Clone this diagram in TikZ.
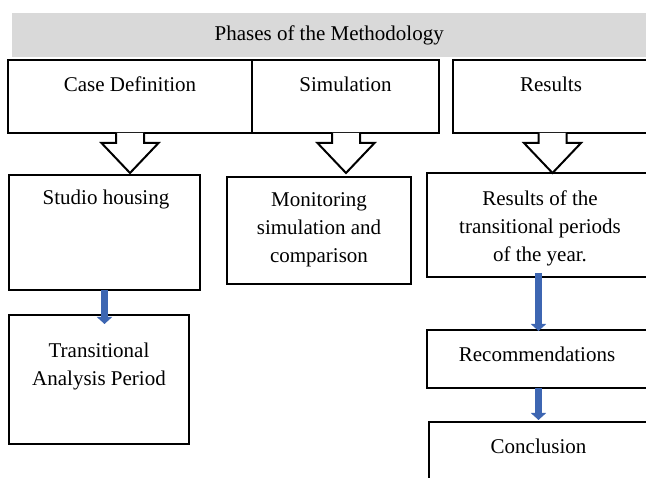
\documentclass[tikz,border=0pt]{standalone}
\usepackage{fontspec}
\setmainfont{Liberation Serif}
\usetikzlibrary{arrows.meta,calc}
\definecolor{barGray}{HTML}{D9D9D9}
\definecolor{flowBlue}{HTML}{3D66B2}
\begin{document}
\begin{tikzpicture}[x=1pt,y=-1pt,
  box/.style={draw=black, line width=2pt, fill=white, inner sep=0pt, outer sep=0pt, anchor=north west},
  txt/.style={font=\fontsize{21}{28}\selectfont, align=center, inner sep=0pt},
  blockarr/.pic={\draw[line width=2pt, line join=miter, fill=white]
      (-14,0) -- (-14,10) -- (-28.5,10) -- (0,40) -- (28.5,10) -- (14,10) -- (14,0);},
  bluearr/.style={draw=flowBlue, line width=6.5pt, -{Triangle[width=15pt,length=7pt]}}]
\useasboundingbox (0,0) rectangle (646,478);
\clip (0,0) rectangle (646,478);

% title bar
\node[fill=barGray, inner sep=0pt, anchor=north west, minimum width=634pt, minimum height=44pt] (bar) at (12,13) {};
\node[txt] (barT) at (bar.center) {Phases of the Methodology};

% phase boxes
\node[box, minimum width=244pt, minimum height=73pt] (cd) at (8,60) {};
\node[box, minimum width=187pt, minimum height=73pt] (sim) at (252,60) {};
\node[box, minimum width=199pt, minimum height=73pt] (res) at (453,60) {};
\node[txt] (cdT) at ($(cd.north)+(0,24)$) {Case Definition};
\node[txt] (simT) at ($(sim.north)+(0,24)$) {Simulation};
\node[txt] (resT) at ($(res.north)+(-1.5,24)$) {Results};

% second row
\node[box, minimum width=191pt, minimum height=115pt] (studio) at (9,175) {};
\node[box, minimum width=184pt, minimum height=107pt] (mon) at (227,177) {};
\node[box, minimum width=228pt, minimum height=104pt] (rot) at (427,173) {};
\node[txt] (studioT) at ($(studio.north)+(1.5,24)$) {Studio housing};
\node[txt] (monT) at ($(mon.north)+(0,53)$) {Monitoring\\simulation and\\comparison};
\node[txt] (rotT) at ($(rot.north)+(-1,55)$) {Results of the\\transitional periods\\of the year.};

% block arrows
\pic at (cd.south) {blockarr};
\pic at ($(sim.south)+(0.5,0)$) {blockarr};
\pic at (res.south) {blockarr};

% lower boxes
\node[box, minimum width=180pt, minimum height=129pt] (trans) at (9,315) {};
\node[box, minimum width=223pt, minimum height=58pt] (rec) at (427,330) {};
\node[box, minimum width=221pt, minimum height=80pt] (con) at (429,422) {};
\node[txt] (transT) at ($(trans.north)+(0,51)$) {Transitional\\Analysis Period};
\node[txt] (recT) at ($(rec.center)+(-1.5,-5)$) {Recommendations};
\node[txt] (conT) at ($(con.north)+(-1,24)$) {Conclusion};

% blue arrows
\draw[bluearr] (studio.south) -- ($(studio.south |- trans.north)+(0,9)$);
\draw[bluearr] ($(rec.north |- rot.south)+(0,-4)$) -- ($(rec.north)+(0,1)$);
\draw[bluearr] (rec.south) -- ($(rec.south |- con.north)+(0,-2)$);
\end{tikzpicture}
\end{document}
